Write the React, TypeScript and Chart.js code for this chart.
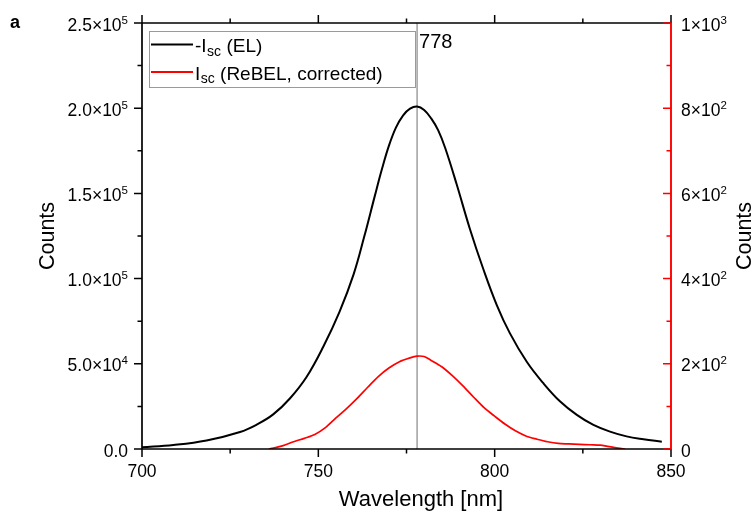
import React, { useEffect, useRef } from 'react';
import { Chart, registerables } from 'chart.js';

Chart.register(...registerables);

// ---------- data ----------
const elWavelength = [700, 708.9, 718.3, 727.8, 732.5, 737.2, 742, 746.7, 751.4, 756, 760, 763, 766, 768, 770, 772, 774, 776, 778, 780, 782, 784, 786, 789.2, 793, 796.8, 800.6, 804.3, 809.1, 813.8, 818.5, 823.3, 828, 832.7, 837.4, 842.2, 847.4];
const elCounts = [1000, 2350, 5000, 10000, 14300, 20300, 29800, 42400, 60000, 80500, 102500, 124500, 148400, 164000, 177900, 188600, 195700, 199700, 201000, 199000, 194000, 187000, 176500, 155500, 129000, 105500, 84500, 68000, 51200, 38600, 28000, 20000, 14100, 10200, 7400, 5700, 4300];

const rebelWavelength = [736, 740, 743, 746, 749, 752, 755, 758, 761, 764, 767, 770, 773, 776, 778, 780, 782, 785, 788, 791, 794, 797, 800, 803, 806, 809, 812, 815, 818, 821, 824, 827, 830, 832, 835, 837];
const rebelCounts = [0, 8, 17, 25, 34, 50, 73, 95, 119, 145, 170, 190, 205, 214, 218, 217, 208, 193, 172, 148, 122, 97, 77, 58, 42, 30, 23, 17, 13, 12, 11, 10, 9, 6, 2, 0];

const xTickValues = [700, 750, 800, 850];
const xTickLabels = ['700', '750', '800', '850'];
const xMinorValues = [725, 775, 825];

const leftTickValues = [0, 50000, 100000, 150000, 200000, 250000];
const leftTickLabels = ['0.0', '5.0×10^4', '1.0×10^5', '1.5×10^5', '2.0×10^5', '2.5×10^5'];
const leftMinorValues = [25000, 75000, 125000, 175000, 225000];

const rightTickValues = [0, 200, 400, 600, 800, 1000];
const rightTickLabels = ['0', '2×10^2', '4×10^2', '6×10^2', '8×10^2', '1×10^3'];
const rightMinorValues = [100, 300, 500, 700, 900];

const peakWavelength = 778;
const peakLabel = '778';

const xTitle = 'Wavelength [nm]';
const leftTitle = 'Counts';
const rightTitle = 'Counts';
const panelLetter = 'a';

// legend entries: [prefix, subscript, suffix]
const legendEntries = [
  { pre: '-I', sub: 'sc', post: ' (EL)', color: '#000000' },
  { pre: 'I', sub: 'sc', post: ' (ReBEL, corrected)', color: '#ff0000' },
];

const FONT = '"Liberation Sans", Arial, Helvetica, sans-serif';
const RED = '#ff0000';

function drawSupLabel(
  ctx: CanvasRenderingContext2D,
  label: string,
  x: number,
  y: number,
  align: 'left' | 'right' | 'center',
  mainSize: number,
  supSize: number,
  supRaise: number
) {
  const [base, exp] = label.split('^');
  ctx.font = `${mainSize}px ${FONT}`;
  const wb = ctx.measureText(base).width;
  ctx.font = `${supSize}px ${FONT}`;
  const we = exp ? ctx.measureText(exp).width : 0;
  const total = wb + we;
  const x0 = align === 'left' ? x : align === 'right' ? x - total : x - total / 2;
  ctx.textAlign = 'left';
  ctx.textBaseline = 'alphabetic';
  ctx.font = `${mainSize}px ${FONT}`;
  ctx.fillText(base, x0, y);
  if (exp) {
    ctx.font = `${supSize}px ${FONT}`;
    ctx.fillText(exp, x0 + wb, y - supRaise);
  }
}

const originPlugin = {
  id: 'originStyle',
  beforeDatasetsDraw(chart: any) {
    const { ctx, chartArea: a, scales } = chart;
    const px = scales.x.getPixelForValue(peakWavelength);
    ctx.save();
    ctx.strokeStyle = '#868686';
    ctx.lineWidth = 1.2;
    ctx.beginPath();
    ctx.moveTo(px, a.top);
    ctx.lineTo(px, a.bottom);
    ctx.stroke();
    ctx.restore();
  },
  afterDraw(chart: any) {
    const { ctx, chartArea: a, scales } = chart;
    const xs = scales.x;
    const ys = scales.y;
    const y2 = scales.y2;
    const MAJ = 8;
    const MIN = 4.5;
    ctx.save();

    // frame (black: left, top, bottom)
    ctx.strokeStyle = '#000';
    ctx.lineWidth = 1.7;
    ctx.beginPath();
    ctx.moveTo(a.left, a.bottom);
    ctx.lineTo(a.right, a.bottom);
    ctx.moveTo(a.left, a.top);
    ctx.lineTo(a.right, a.top);
    ctx.moveTo(a.left, a.top);
    ctx.lineTo(a.left, a.bottom);
    ctx.stroke();

    // x ticks (bottom: down, top: up)
    ctx.lineWidth = 1.5;
    ctx.beginPath();
    xTickValues.forEach((v) => {
      const p = xs.getPixelForValue(v);
      ctx.moveTo(p, a.bottom);
      ctx.lineTo(p, a.bottom + MAJ);
      ctx.moveTo(p, a.top);
      ctx.lineTo(p, a.top - MAJ);
    });
    xMinorValues.forEach((v) => {
      const p = xs.getPixelForValue(v);
      ctx.moveTo(p, a.bottom);
      ctx.lineTo(p, a.bottom + MIN);
      ctx.moveTo(p, a.top);
      ctx.lineTo(p, a.top - MIN);
    });
    // left ticks (outward)
    leftTickValues.forEach((v) => {
      const p = ys.getPixelForValue(v);
      ctx.moveTo(a.left, p);
      ctx.lineTo(a.left - MAJ, p);
    });
    leftMinorValues.forEach((v) => {
      const p = ys.getPixelForValue(v);
      ctx.moveTo(a.left, p);
      ctx.lineTo(a.left - MIN, p);
    });
    ctx.stroke();

    // right axis (red, inward ticks)
    ctx.strokeStyle = RED;
    ctx.lineWidth = 1.9;
    ctx.beginPath();
    ctx.moveTo(a.right, a.top);
    ctx.lineTo(a.right, a.bottom);
    ctx.stroke();
    ctx.lineWidth = 1.5;
    ctx.beginPath();
    rightTickValues.forEach((v) => {
      const p = y2.getPixelForValue(v);
      ctx.moveTo(a.right, p);
      ctx.lineTo(a.right - MAJ, p);
    });
    rightMinorValues.forEach((v) => {
      const p = y2.getPixelForValue(v);
      ctx.moveTo(a.right, p);
      ctx.lineTo(a.right - MIN, p);
    });
    ctx.stroke();

    // tick labels
    ctx.fillStyle = '#000';
    xTickValues.forEach((v, i) => {
      const p = xs.getPixelForValue(v);
      drawSupLabel(ctx, xTickLabels[i], p, a.bottom + 28, 'center', 17.5, 11.5, 7);
    });
    leftTickValues.forEach((v, i) => {
      const p = ys.getPixelForValue(v);
      drawSupLabel(ctx, leftTickLabels[i], a.left - 14, p + 7.5, 'right', 17.5, 11.5, 7);
    });
    rightTickValues.forEach((v, i) => {
      const p = y2.getPixelForValue(v);
      drawSupLabel(ctx, rightTickLabels[i], a.right + 10, p + 7.5, 'left', 17.5, 11.5, 7);
    });

    // axis titles
    ctx.font = `22px ${FONT}`;
    ctx.textAlign = 'center';
    ctx.textBaseline = 'alphabetic';
    ctx.fillText(xTitle, 421, 506);
    ctx.font = `21.5px ${FONT}`;
    ctx.save();
    ctx.translate(48, (a.top + a.bottom) / 2);
    ctx.rotate(-Math.PI / 2);
    ctx.textBaseline = 'middle';
    ctx.fillText(leftTitle, 0, 0);
    ctx.restore();
    ctx.save();
    ctx.translate(745, (a.top + a.bottom) / 2);
    ctx.rotate(-Math.PI / 2);
    ctx.textBaseline = 'middle';
    ctx.fillText(rightTitle, 0, 0);
    ctx.restore();

    // panel letter
    ctx.font = `bold 18px ${FONT}`;
    ctx.textAlign = 'left';
    ctx.fillText(panelLetter, 10, 28);

    // peak label
    const pk = xs.getPixelForValue(peakWavelength);
    ctx.font = `20px ${FONT}`;
    ctx.fillText(peakLabel, pk + 2, 48);

    // legend
    const lx = a.left + 7;
    const ly = a.top + 8;
    const lw = 266;
    const lh = 56;
    ctx.fillStyle = '#fff';
    ctx.fillRect(lx, ly, lw, lh);
    ctx.strokeStyle = '#9a9a9a';
    ctx.lineWidth = 1;
    ctx.strokeRect(lx + 0.5, ly + 0.5, lw, lh);
    legendEntries.forEach((e, i) => {
      const cy = ly + 13.5 + i * 27.5;
      ctx.strokeStyle = e.color;
      ctx.lineWidth = 2;
      ctx.beginPath();
      ctx.moveTo(lx + 2, cy);
      ctx.lineTo(lx + 44, cy);
      ctx.stroke();
      ctx.fillStyle = '#000';
      let tx = lx + 46;
      const base = cy + 7.5;
      ctx.font = `19px ${FONT}`;
      ctx.fillText(e.pre, tx, base);
      tx += ctx.measureText(e.pre).width + 0.5;
      ctx.font = `14px ${FONT}`;
      ctx.fillText(e.sub, tx, base + 3.5);
      tx += ctx.measureText(e.sub).width;
      ctx.font = `19px ${FONT}`;
      ctx.fillText(e.post, tx, base);
    });

    ctx.restore();
  },
};

export default function App() {
  const canvasRef = useRef<HTMLCanvasElement | null>(null);

  useEffect(() => {
    const canvas = canvasRef.current;
    if (!canvas) return;
    const chart = new Chart(canvas, {
      type: 'line',
      data: {
        datasets: [
          {
            label: '-Isc (EL)',
            data: elWavelength.map((w, i) => ({ x: w, y: elCounts[i] })),
            borderColor: '#000000',
            borderWidth: 2,
            pointRadius: 0,
            yAxisID: 'y',
            tension: 0.4,
          },
          {
            label: 'Isc (ReBEL, corrected)',
            data: rebelWavelength.map((w, i) => ({ x: w, y: rebelCounts[i] })),
            borderColor: RED,
            borderWidth: 1.7,
            pointRadius: 0,
            yAxisID: 'y2',
            tension: 0.3,
          },
        ],
      },
      options: {
        responsive: false,
        animation: false,
        devicePixelRatio: 1,
        layout: { padding: { top: 23, left: 0, right: 0, bottom: 0 } },
        plugins: { legend: { display: false }, tooltip: { enabled: false } },
        events: [],
        scales: {
          x: {
            type: 'linear',
            min: 700,
            max: 850,
            ticks: { display: false },
            grid: { display: false, drawTicks: false },
            border: { display: false },
            afterFit(s: any) {
              s.height = 66;
            },
          },
          y: {
            type: 'linear',
            position: 'left',
            min: 0,
            max: 250000,
            ticks: { display: false },
            grid: { display: false, drawTicks: false },
            border: { display: false },
            afterFit(s: any) {
              s.width = 142;
            },
          },
          y2: {
            type: 'linear',
            position: 'right',
            min: 0,
            max: 1000,
            ticks: { display: false },
            grid: { display: false, drawTicks: false },
            border: { display: false },
            afterFit(s: any) {
              s.width = 84;
            },
          },
        },
      } as any,
      plugins: [originPlugin],
    });
    return () => chart.destroy();
  }, []);

  return (
    <div style={{ position: 'absolute', left: 0, top: 0, width: 755, height: 515, background: '#fff' }}>
      <canvas ref={canvasRef} width={755} height={515} style={{ display: 'block' }} />
    </div>
  );
}
